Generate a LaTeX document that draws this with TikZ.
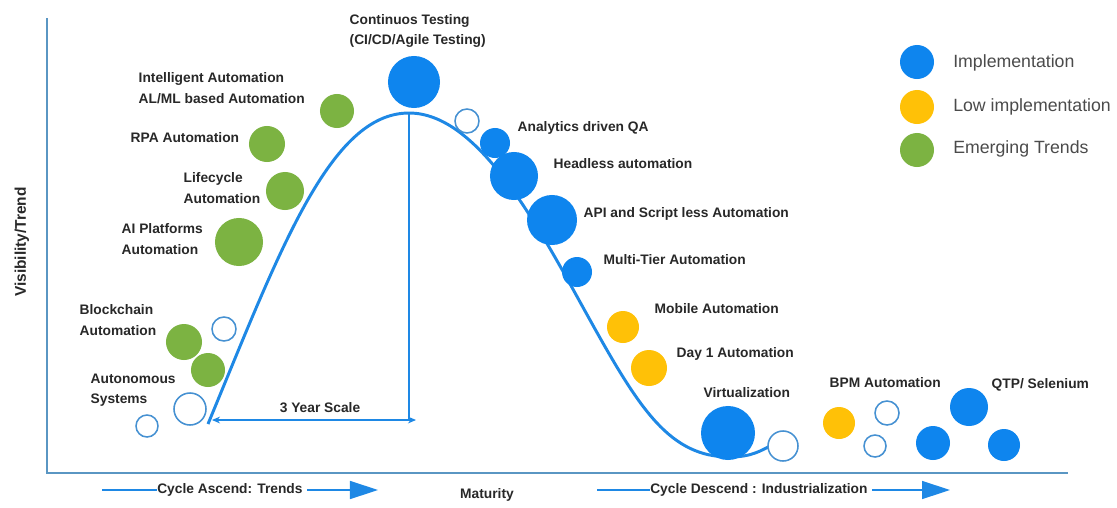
\documentclass[tikz,border=0pt]{standalone}
\usepackage{fontspec}
\setmainfont{Liberation Sans}
\usetikzlibrary{arrows.meta}
\definecolor{implblue}{RGB}{14,133,238}
\definecolor{lowyellow}{RGB}{255,193,7}
\definecolor{trendgreen}{RGB}{124,179,66}
\definecolor{curveblue}{RGB}{30,136,229}
\definecolor{axisblue}{RGB}{90,150,195}
\definecolor{ringblue}{RGB}{70,145,210}
\definecolor{labelgray}{RGB}{40,40,40}
\definecolor{keygray}{RGB}{75,75,75}

\begin{document}
\begin{tikzpicture}[x=0.025cm,y=-0.025cm,
    impl/.style={circle,inner sep=0pt,fill=implblue,minimum size=#1*0.05cm},
    low/.style={circle,inner sep=0pt,fill=lowyellow,minimum size=#1*0.05cm},
    emerg/.style={circle,inner sep=0pt,fill=trendgreen,minimum size=#1*0.05cm},
    ring/.style={circle,inner sep=0pt,draw=ringblue,line width=1.1pt,fill=white,minimum size=#1*0.05cm},
    lbl/.style={anchor=west,align=left,inner sep=1pt,text=labelgray,font=\bfseries\fontsize{9.8}{14.5}\selectfont},
    keytext/.style={anchor=west,inner sep=0pt,text=keygray,font=\fontsize{12.6}{15}\selectfont},
    flow/.style={draw=curveblue,line width=1pt}]
    \useasboundingbox (0,0) rectangle (1117,507);
    \fill[white] (0,0) rectangle (1117,507);

    % axes
    \coordinate (top) at (47,18);
    \coordinate (origin) at (47,473);
    \coordinate (right) at (1068,473);
    \draw[axisblue,line width=1.4pt] (top) -- (origin) -- (right);
    \node[rotate=90,text=labelgray,font=\bfseries\fontsize{11}{13}\selectfont] (vis) at (22,242) {Visibility/Trend};

    % hype curve
    \coordinate (start) at (208,424);
    \coordinate (peak) at (409,113);
    \coordinate (hook) at (772,445);
    \draw[curveblue,line width=2.1pt] (start) .. controls (280,250) and (330,113) .. (peak)
        .. controls (480,113) and (540,230) .. (590,320)
        .. controls (640,410) and (670,457) .. (730,457)
        .. controls (752,457) and (762,450) .. (hook);
    \coordinate (foot) at (409,421);
    \draw[curveblue,line width=1pt] (peak) -- (foot);
    \coordinate (sL) at (212,420);
    \coordinate (sR) at (416,420);
    \draw[curveblue,line width=1pt,{Stealth[length=0.2cm,width=0.17cm]}-{Stealth[length=0.2cm,width=0.17cm]}] (sL) -- (sR);
    \node[text=labelgray,font=\bfseries\fontsize{9.8}{12}\selectfont] (scale) at (320,408) {3 Year Scale};

    % emerging trends
    \node[emerg=17] (ia) at (337,111) {};
    \node[emerg=18] (rpa) at (267,144) {};
    \node[emerg=19] (lc) at (285,191) {};
    \node[emerg=24] (aip) at (239,242) {};
    \node[emerg=18] (bc) at (184,342) {};
    \node[emerg=17] (as) at (208,370) {};
    \node[ring=12] (r1) at (224,329) {};
    \node[ring=16] (r2) at (190,409) {};
    \node[ring=11] (r3) at (147,426) {};

    % implementation
    \node[impl=26] (ct) at (414,82) {};
    \node[ring=12] (r4) at (467,121) {};
    \node[impl=15] (adq) at (495,143) {};
    \node[impl=24] (hla) at (514,176) {};
    \node[impl=25] (api) at (552,220) {};
    \node[impl=15] (mta) at (577,272) {};
    \node[low=16] (mob) at (623,327) {};
    \node[low=18] (day) at (649,368) {};
    \node[impl=27] (virt) at (728,433) {};
    \node[ring=15] (r5) at (783,446) {};
    \node[low=16] (bpm) at (839,423) {};
    \node[ring=12] (r6) at (887,413) {};
    \node[ring=11] (r7) at (875,446) {};
    \node[impl=19] (qtp) at (969,407) {};
    \node[impl=17] (qtpa) at (933,443) {};
    \node[impl=16] (qtpb) at (1004,445) {};

    % labels
    \node[lbl] (ctl) at (348,31) {Continuos Testing\\(CI/CD/Agile Testing)};
    \node[lbl] (ial) at (137,88) {Intelligent Automation\\AL/ML based Automation};
    \node[lbl] (rpal) at (129,138) {RPA Automation};
    \node[lbl] (lcl) at (182,188) {Lifecycle\\Automation};
    \node[lbl] (aipl) at (120,239) {AI Platforms\\Automation};
    \node[lbl] (bcl) at (78,320) {Blockchain\\Automation};
    \node[lbl] (asl) at (89,390) {Autonomous\\Systems};
    \node[lbl] (adql) at (516,128) {Analytics driven QA};
    \node[lbl] (hlal) at (552,164) {Headless automation};
    \node[lbl] (apil) at (582,214) {API and Script less Automation};
    \node[lbl] (mtal) at (602,260) {Multi-Tier Automation};
    \node[lbl] (mobl) at (653,309) {Mobile Automation};
    \node[lbl] (dayl) at (675,354) {Day 1 Automation};
    \node[lbl] (virtl) at (702,393) {Virtualization};
    \node[lbl] (bpml) at (828,383) {BPM Automation};
    \node[lbl] (qtpl) at (990,385) {QTP/ Selenium};

    % legend
    \node[impl=17] (kimpl) at (917,62) {};
    \node[low=17] (klow) at (917,107) {};
    \node[emerg=17] (kemerg) at (917,150) {};
    \node[keytext] at (953,63) {Implementation};
    \node[keytext] at (953,107) {Low implementation};
    \node[keytext] at (953,149) {Emerging Trends};

    % bottom axis captions
    \node[lbl,inner xsep=0pt] (asc) at (157,490) {Cycle Ascend: Trends};
    \coordinate (ascL) at (102,490);
    \coordinate (ascR) at (378,490);
    \draw[flow] (ascL) -- (asc.west);
    \draw[flow,-{Triangle[length=0.7cm,width=0.45cm]}] ([xshift=3pt]asc.east) -- (ascR);
    \node[text=labelgray,font=\bfseries\fontsize{9.8}{12}\selectfont] (mat) at (487,495) {Maturity};
    \node[lbl,inner xsep=0pt] (desc) at (650,490) {Cycle Descend : Industrialization};
    \coordinate (descL) at (597,490);
    \coordinate (descR) at (950,490);
    \draw[flow] (descL) -- (desc.west);
    \draw[flow,-{Triangle[length=0.7cm,width=0.45cm]}] ([xshift=3pt]desc.east) -- (descR);
\end{tikzpicture}
\end{document}
